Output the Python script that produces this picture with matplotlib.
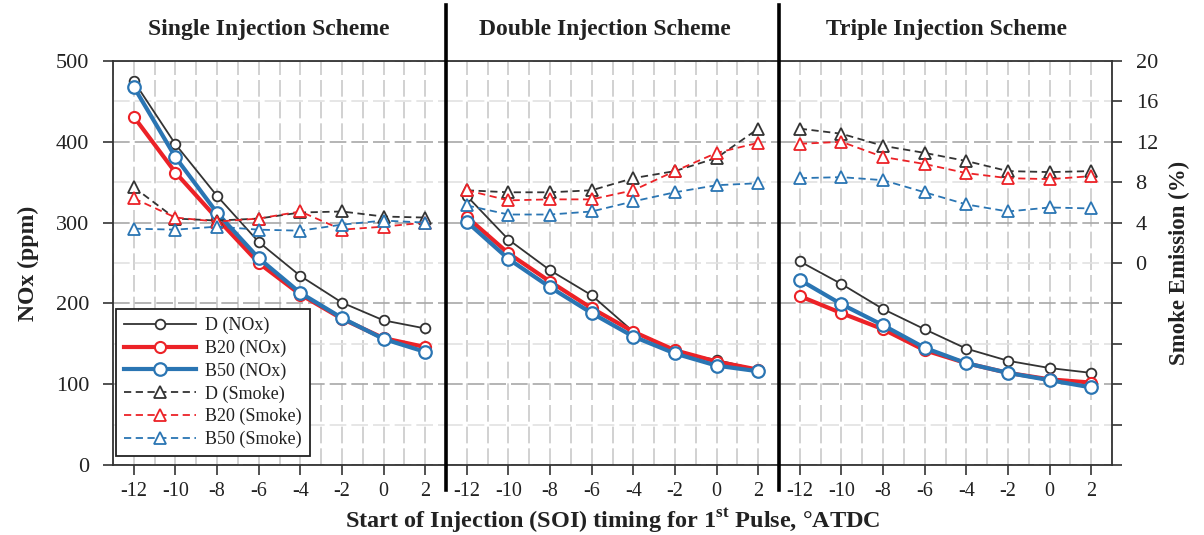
import matplotlib
matplotlib.use("Agg")
import matplotlib.pyplot as plt
from matplotlib.lines import Line2D

plt.rcParams['font.family'] = ['Liberation Serif', 'DejaVu Serif']
plt.rcParams['mathtext.fontset'] = 'custom'
plt.rcParams['mathtext.rm'] = 'Liberation Serif'
plt.rcParams['mathtext.bf'] = 'Liberation Serif:bold'

# ---------------- data ----------------
soi = [-12, -10, -8, -6, -4, -2, 0, 2]
schemes = ["Single Injection Scheme", "Double Injection Scheme", "Triple Injection Scheme"]

# NOx (ppm)
nox_d = [
    [475, 397, 333, 276, 234, 201, 179, 169],
    [333, 279, 241, 210, 165, 140, 130, 118],
    [252, 224, 193, 168, 144, 129, 120, 114],
]
nox_b20 = [
    [431, 362, 305, 250, 211, 181, 157, 146],
    [307, 262, 227, 194, 165, 142, 128, 118],
    [209, 188, 168, 142, 126, 114, 106, 102],
]
nox_b50 = [
    [468, 381, 312, 256, 213, 182, 156, 140],
    [301, 255, 220, 188, 159, 138, 123, 116],
    [229, 199, 173, 145, 126, 114, 105, 96],
]
# Smoke emission (%)
smoke_d = [
    [7.5, 4.4, 4.2, 4.4, 5.0, 5.1, 4.6, 4.5],
    [7.2, 7.0, 7.0, 7.2, 8.4, 9.1, 10.4, 13.3],
    [13.3, 12.8, 11.6, 10.9, 10.1, 9.1, 9.0, 9.1],
]
smoke_b20 = [
    [6.4, 4.5, 4.1, 4.4, 5.1, 3.3, 3.6, 4.0],
    [7.2, 6.2, 6.3, 6.3, 7.2, 9.1, 10.9, 11.9],
    [11.8, 12.0, 10.5, 9.8, 8.9, 8.4, 8.3, 8.6],
]
smoke_b50 = [
    [3.4, 3.3, 3.6, 3.3, 3.2, 3.8, 4.2, 4.0],
    [5.7, 4.8, 4.8, 5.1, 6.1, 7.0, 7.7, 7.9],
    [8.4, 8.5, 8.2, 7.0, 5.8, 5.1, 5.5, 5.4],
]
nox_ticks = [0, 100, 200, 300, 400, 500]
smoke_ticks = [-20, -16, -12, -8, -4, 0, 4, 8, 12, 16, 20]

# ---------------- styles ----------------
C_D = '#333333'
C_R = '#ec2227'
C_B = '#2a75b3'
TXT = '#222222'

fig = plt.figure(figsize=(12.04, 5.35), dpi=100)
L, R, B, T = 113 / 1204, 1112 / 1204, 1 - 465 / 535, 1 - 61 / 535
w = (R - L) / 3
axes = [fig.add_axes([L + i * w, B, w, T - B]) for i in range(3)]
twins = []
title_x = [269 / 1204, 605 / 1204, 946 / 1204]

grid_kw = dict(linestyle=(0, (10, 3)), linewidth=1.2)

for i, ax in enumerate(axes):
    ax.set_xlim(-13, 3)
    ax.set_ylim(0, 500)
    ax.set_xticks(soi)
    ax.set_xticks([-13, -11, -9, -7, -5, -3, -1, 1, 3], minor=True)
    ax.set_yticks(nox_ticks)
    ax.set_yticks([50, 150, 250, 350, 450], minor=True)
    ax.grid(True, axis='x', which='both', color='#c9c9c9', **grid_kw)
    ax.grid(True, axis='y', which='major', color='#a8a8a8', **grid_kw)
    ax.grid(True, axis='y', which='minor', color='#e2e2e2', **grid_kw)
    ax.set_axisbelow(True)
    ax.tick_params(axis='x', which='major', direction='out', length=7, width=1.2,
                   labelsize=14.5, colors='#333333', labelcolor=TXT, pad=5)
    ax.tick_params(axis='both', which='minor', length=0)
    ax.set_xticklabels([str(v) for v in soi])
    for s in ['top', 'bottom', 'left', 'right']:
        ax.spines[s].set_color('#333333')
        ax.spines[s].set_linewidth(1.3)
    ax.spines['right'].set_visible(False)
    if i == 0:
        ax.tick_params(axis='y', which='major', direction='out', length=7, width=1.2,
                       labelsize=16, colors='#333333', labelcolor=TXT, pad=10)
        ax.set_ylabel("NOx (ppm)", fontsize=17, fontweight='bold', color=TXT, labelpad=12)
    else:
        ax.spines['left'].set_visible(False)
        ax.tick_params(axis='y', which='major', length=0, labelleft=False)

    ax.plot(soi, nox_d[i], color=C_D, lw=1.3, marker='o', ms=7, mfc='white',
            mec=C_D, mew=1.3, label='D (NOx)', zorder=3)
    ax.plot(soi, nox_b20[i], color=C_R, lw=3, marker='o', ms=8, mfc='white',
            mec=C_R, mew=1.5, label='B20 (NOx)', zorder=4)
    ax.plot(soi, nox_b50[i], color=C_B, lw=3, marker='o', ms=9, mfc='white',
            mec=C_B, mew=1.6, label='B50 (NOx)', zorder=5)

    tw = ax.twinx()
    tw.set_ylim(-20, 20)
    tw.set_xlim(-13, 3)
    tw.spines['left'].set_visible(False)
    tw.spines['top'].set_visible(False)
    tw.spines['bottom'].set_visible(False)
    tw.plot(soi, smoke_d[i], color=C_D, lw=1.3, ls=(0, (4, 2.5)), marker='^', ms=8,
            mfc='white', mec=C_D, mew=1.3, label='D (Smoke)')
    tw.plot(soi, smoke_b20[i], color=C_R, lw=1.3, ls=(0, (4, 2.5)), marker='^', ms=8,
            mfc='white', mec=C_R, mew=1.3, label='B20 (Smoke)')
    tw.plot(soi, smoke_b50[i], color=C_B, lw=1.3, ls=(0, (4, 2.5)), marker='^', ms=8,
            mfc='white', mec=C_B, mew=1.3, label='B50 (Smoke)')
    if i == 2:
        tw.spines['right'].set_color('#333333')
        tw.spines['right'].set_linewidth(1.3)
        tw.set_yticks(smoke_ticks)
        tw.set_yticklabels([str(v) if v >= 0 else '' for v in smoke_ticks])
        tw.tick_params(axis='y', direction='out', length=7, width=1.2, labelsize=16,
                       colors='#333333', labelcolor=TXT, pad=10)
        tw.set_ylabel("Smoke Emission (%)", fontsize=16.5, fontweight='bold', color=TXT,
                      labelpad=8)
    else:
        tw.spines['right'].set_visible(False)
        tw.set_yticks([])
    twins.append(tw)

    fig.text(title_x[i], 1 - 30 / 535, schemes[i], ha='center', va='center',
             fontsize=17, fontweight='bold', color=TXT)

# separators between panels
for i in (1, 2):
    x = L + i * w
    fig.add_artist(Line2D([x, x], [1 - 490 / 535, 1 - 5 / 535], transform=fig.transFigure,
                          color='black', lw=2.6))

# legend
h1, l1 = axes[0].get_legend_handles_labels()
h2, l2 = twins[0].get_legend_handles_labels()
leg = twins[0].legend(h1 + h2, l1 + l2, loc='lower left', bbox_to_anchor=(0.008, 0.022),
                      fontsize=13, frameon=True, fancybox=False, edgecolor='#222222',
                      framealpha=1, handlelength=4.0, labelspacing=0.3,
                      borderpad=0.45, handletextpad=0.5, borderaxespad=0)
leg.get_frame().set_linewidth(1.3)
for t in leg.get_texts():
    t.set_color(TXT)

fig.text((L + R) / 2, 1 - 521 / 535,
         r"Start of Injection (SOI) timing for 1$^{\mathbf{st}}$ Pulse, °ATDC",
         ha='center', va='center', fontsize=17.5, fontweight='bold', color=TXT)

fig.savefig("out.png", dpi=100)
